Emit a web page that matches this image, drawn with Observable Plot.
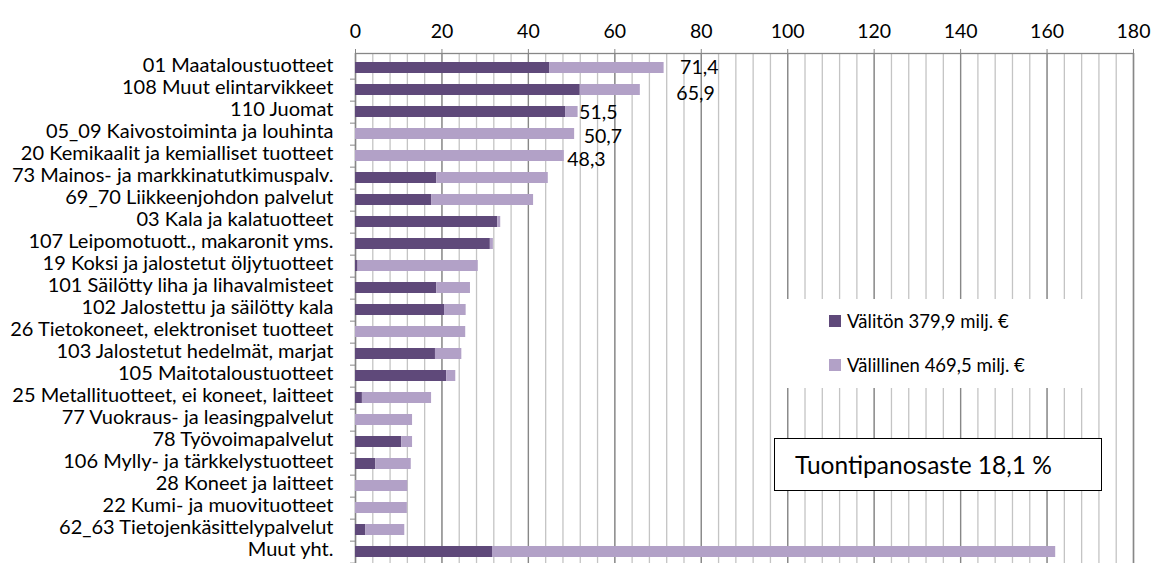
<!DOCTYPE html>
<html>
<head>
<meta charset="utf-8">
<script src="https://cdn.jsdelivr.net/npm/d3@7"></script>
<script src="https://cdn.jsdelivr.net/npm/@observablehq/plot@0.6"></script>
<style>
  html, body { margin: 0; padding: 0; background: #fff; overflow: hidden; }
  #wrap { position: relative; width: 1151px; height: 563px; overflow: hidden; font-family: Lato, "Open Sans", sans-serif; }
  #legend { position: absolute; left: 775px; top: 299px; width: 315px; height: 89px; background: #fff; }
  .item { position: absolute; left: 54px; height: 20px; display: flex; align-items: center; font-size: 18.5px; color: #000; white-space: nowrap; }
  .sw { width: 12px; height: 12px; margin-right: 6px; }
  #box { position: absolute; left: 774px; top: 438px; width: 306px; height: 51px; border: 1.5px solid #000; background: #fff;
         font-size: 24.5px; display: flex; align-items: center; padding-left: 20px; box-sizing: content-box; color: #000; white-space: nowrap; }
</style>
</head>
<body>
<div id="wrap"></div>
<script>
const categories = [
  "01 Maataloustuotteet",
  "108 Muut elintarvikkeet",
  "110 Juomat",
  "05_09 Kaivostoiminta ja louhinta",
  "20 Kemikaalit ja kemialliset tuotteet",
  "73 Mainos- ja markkinatutkimuspalv.",
  "69_70 Liikkeenjohdon palvelut",
  "03 Kala ja kalatuotteet",
  "107 Leipomotuott., makaronit yms.",
  "19 Koksi ja jalostetut öljytuotteet",
  "101 Säilötty liha ja lihavalmisteet",
  "102 Jalostettu ja säilötty kala",
  "26 Tietokoneet, elektroniset tuotteet",
  "103 Jalostetut hedelmät, marjat",
  "105 Maitotaloustuotteet",
  "25 Metallituotteet, ei koneet, laitteet",
  "77 Vuokraus- ja leasingpalvelut",
  "78 Työvoimapalvelut",
  "106 Mylly- ja tärkkelystuotteet",
  "28 Koneet ja laitteet",
  "22 Kumi- ja muovituotteet",
  "62_63 Tietojenkäsittelypalvelut",
  "Muut yht."
];
const valiton    = [44.9, 52.0, 48.6, 0, 0, 18.8, 17.6, 32.9, 31.2, 0.6, 18.8, 20.6, 0, 18.5, 21.1, 1.6, 0, 10.7, 4.7, 0, 0, 2.4, 31.7];
const valillinen = [26.5, 13.9, 2.9, 50.7, 48.3, 25.8, 23.6, 0.7, 0.7, 27.8, 7.8, 5.0, 25.5, 6.1, 2.1, 16.0, 13.2, 2.5, 8.2, 12.1, 12.0, 9.0, 130.3];
const seriesNames = ["Välitön 379,9 milj. €", "Välillinen 469,5 milj. €"];
const seriesColors = ["#5f497a", "#b2a1c7"];
const totalLabels = ["71,4", "65,9", "51,5", "50,7", "48,3"];
const xTicks = [0, 20, 40, 60, 80, 100, 120, 140, 160, 180];
const minorTicks = d3.range(0, 181, 4);
const boxText = "Tuontipanosaste 18,1 %";

const rows = [];
categories.forEach((c, i) => {
  rows.push({cat: c, series: seriesNames[0], value: valiton[i]});
  rows.push({cat: c, series: seriesNames[1], value: valillinen[i]});
});
const labelRows = totalLabels.map((t, i) => ({cat: categories[i], total: valiton[i] + valillinen[i], text: t}));

const W = 1151, H = 570, mt = 53, mb = 4, ml = 355, mr = 18;
const step = (H - mt - mb) / categories.length;

function labelMark(i, dx, dy) {
  return Plot.text([labelRows[i]], {x: "total", y: "cat", text: "text", textAnchor: "start", dx, dy, fontSize: 19.5, fill: "#000"});
}

const chart = Plot.plot({
  width: W, height: H,
  marginTop: mt, marginBottom: mb, marginLeft: ml, marginRight: mr,
  style: {fontFamily: "Lato, 'Open Sans', sans-serif", fontSize: "19px", color: "#000", background: "#fff"},
  x: {domain: [0, 180]},
  y: {domain: categories, paddingInner: 0.5, paddingOuter: 0.25},
  color: {domain: seriesNames, range: seriesColors},
  marks: [
    Plot.ruleX(minorTicks, {stroke: "#c4c4c4", strokeWidth: 1.3}),
    Plot.ruleX(xTicks, {stroke: "#878787", strokeWidth: 1.3}),
    Plot.frame({stroke: "#878787", strokeWidth: 1.3}),
    Plot.axisX(xTicks, {anchor: "top", tickSize: 5, tickPadding: 11, stroke: "#878787", color: "#000", fill: "#000", label: null, fontSize: 19.5}),
    Plot.axisY({anchor: "left", tickSize: 0, tickPadding: 22, dy: -2.5, label: null, fontSize: 20, fill: "#000"}),
    Plot.axisY({anchor: "left", tickSize: 5, tickFormat: () => "", dy: step / 2, stroke: "#878787", label: null}),
    Plot.barX(rows, Plot.stackX({y: "cat", x: "value", fill: "series"})),
    labelMark(0, 16, -0.5),
    labelMark(1, 36, 4),
    labelMark(2, 1, 0.5),
    labelMark(3, 9, 2.5),
    labelMark(4, 3, 4)
  ]
});

const wrap = document.getElementById("wrap");
wrap.appendChild(chart);

const legend = document.createElement("div");
legend.id = "legend";
seriesNames.forEach((name, i) => {
  const it = document.createElement("div");
  it.className = "item";
  it.style.top = (i === 0 ? 12 : 56) + "px";
  const sw = document.createElement("span");
  sw.className = "sw";
  sw.style.background = seriesColors[i];
  const tx = document.createElement("span");
  tx.textContent = name;
  it.appendChild(sw); it.appendChild(tx);
  legend.appendChild(it);
});
wrap.appendChild(legend);

const box = document.createElement("div");
box.id = "box";
box.textContent = boxText;
wrap.appendChild(box);
</script>
</body>
</html>
